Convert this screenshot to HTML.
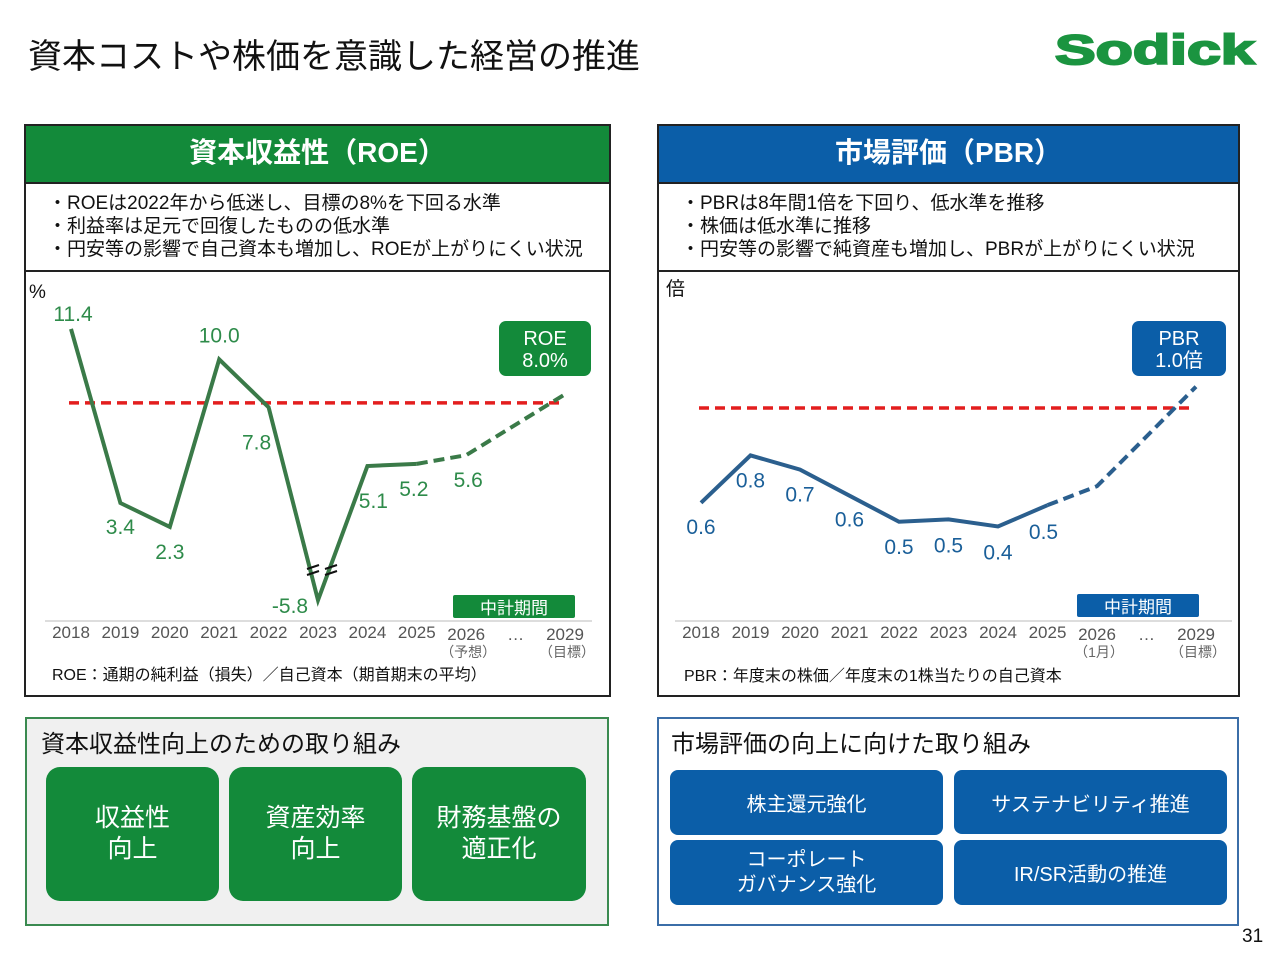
<!DOCTYPE html>
<html><head><meta charset="utf-8">
<style>
*{margin:0;padding:0;box-sizing:border-box}
body{width:1280px;height:960px;background:#fff;position:relative;overflow:hidden;font-family:"Liberation Sans","Noto Sans CJK JP",sans-serif;color:#111}
.abs{position:absolute}
.panel{position:absolute;border:2px solid #222;background:#fff}
.hdr{position:absolute;left:0;right:0;top:0;height:58px;color:#fff;font-size:28px;text-align:center;line-height:54px;border-bottom:2px solid #222;font-weight:bold}
.desc{position:absolute;left:0;right:0;top:58px;height:88px;border-bottom:2px solid #222;font-size:19px;line-height:23px;padding:8px 0 0 22px}
.btn{position:absolute;color:#fff;text-align:center;display:flex;align-items:center;justify-content:center;border-radius:14px}
</style></head><body>
<div class="abs" style="left:28px;top:29px;font-size:34px;">資本コストや株価を意識した経営の推進</div>
<div class="abs" style="left:1055px;top:29px;font-size:42px;line-height:42px;font-weight:900;color:#1b9440;font-family:'Liberation Sans',sans-serif;-webkit-text-stroke:2px #1b9440;transform:scaleX(1.45);transform-origin:left top">Sodick</div>

<div class="panel" style="left:24px;top:124px;width:587px;height:573px">
 <div class="hdr" style="background:#138a3a">資本収益性（ROE）</div>
 <div class="desc">・ROEは2022年から低迷し、目標の8%を下回る水準<br>・利益率は足元で回復したものの低水準<br>・円安等の影響で自己資本も増加し、ROEが上がりにくい状況</div>
</div>
<div class="panel" style="left:657px;top:124px;width:583px;height:573px">
 <div class="hdr" style="background:#0b5ea8">市場評価（PBR）</div>
 <div class="desc">・PBRは8年間1倍を下回り、低水準を推移<br>・株価は低水準に推移<br>・円安等の影響で純資産も増加し、PBRが上がりにくい状況</div>
</div>

<svg id="charts" class="abs" style="left:0;top:0" width="1280" height="960"></svg>

<div class="abs" style="left:25px;top:717px;width:584px;height:209px;background:#f0f0f0;border:2px solid #3a8a50">
 <div class="abs" style="left:14px;top:5px;font-size:24px">資本収益性向上のための取り組み</div>
</div>
<div class="btn" style="left:46px;top:767px;width:173px;height:134px;background:#138a3a;font-size:25px;line-height:31px">収益性<br>向上</div>
<div class="btn" style="left:229px;top:767px;width:173px;height:134px;background:#138a3a;font-size:25px;line-height:31px">資産効率<br>向上</div>
<div class="btn" style="left:412px;top:767px;width:174px;height:134px;background:#138a3a;font-size:25px;line-height:31px">財務基盤の<br>適正化</div>

<div class="abs" style="left:657px;top:717px;width:582px;height:209px;background:#fff;border:2px solid #3b6ea8">
 <div class="abs" style="left:12px;top:5px;font-size:24px">市場評価の向上に向けた取り組み</div>
</div>
<div class="btn" style="left:670px;top:770px;width:273px;height:65px;background:#0b5ea8;font-size:20px;border-radius:8px">株主還元強化</div>
<div class="btn" style="left:954px;top:770px;width:273px;height:64px;background:#0b5ea8;font-size:20px;border-radius:8px">サステナビリティ推進</div>
<div class="btn" style="left:670px;top:840px;width:273px;height:65px;background:#0b5ea8;font-size:20px;line-height:25px;border-radius:8px">コーポレート<br>ガバナンス強化</div>
<div class="btn" style="left:954px;top:840px;width:273px;height:65px;background:#0b5ea8;font-size:20px;border-radius:8px">IR/SR活動の推進</div>
<div class="abs" style="left:1242px;top:926px;font-size:19px">31</div>

<script>
const years = ["2018","2019","2020","2021","2022","2023","2024","2025","2026","…","2029"];
const roeIdx = [0,1,2,3,4,5,6,7,8,10];
const roeValues = [11.4,3.4,2.3,10.0,7.8,-5.8,5.1,5.2,5.6,8.4];
const roeLabels = ["11.4","3.4","2.3","10.0","7.8","-5.8","5.1","5.2","5.6",""];
const roeTarget = 8.0;
const pbrValues = [0.6,0.8,0.74,0.63,0.52,0.53,0.50,0.59,0.67,1.09];
const pbrLabels = ["0.6","0.8","0.7","0.6","0.5","0.5","0.4","0.5","",""];
const pbrTarget = 1.0;

const NS="http://www.w3.org/2000/svg";
const svg=document.getElementById('charts');
function mk(tag,attrs,txt){const e=document.createElementNS(NS,tag);for(const k in attrs)e.setAttribute(k,attrs[k]);if(txt!==undefined)e.textContent=txt;svg.appendChild(e);return e;}
const F='"Liberation Sans","Noto Sans CJK JP",sans-serif';

const rx=i=>71+i*49.4;
const ry=v=>v>=0?577-v*21.76:577-v*4;
const px=i=>701+i*49.5;
const py=v=>408+(1-v)*237;

function drawChart(o){
  let e;
  e=mk('text',{x:o.unitX,y:o.unitY,'font-size':19,'font-family':F,fill:'#111'},o.unit);
  
  e=mk('line',{x1:o.ax1,x2:o.ax2,y1:o.axY,y2:o.axY,stroke:'#ddd','stroke-width':2});
  
  years.forEach((y,i)=>{
    const t=mk('text',{x:o.x(i),y:o.axY+17+(i>=8?2:0),'font-size':17,'font-family':F,fill:'#555','text-anchor':'middle'},y);
    
  });
  [[8,o.sub26],[10,'（目標）']].forEach(([i,s])=>{
    const t=mk('text',{x:o.x(i)+2,y:o.axY+36,'font-size':14,'font-family':F,fill:'#666','text-anchor':'middle'},s);
    
  });
  const ty=o.y(o.target);
  e=mk('line',{x1:o.x(0)-2,x2:o.x(10)-4,y1:ty,y2:ty,stroke:'#e31e1e','stroke-width':3.5,'stroke-dasharray':'10 6'});
  
  const pts=o.idx.map((i,k)=>[o.x(i),o.y(o.vals[k])]);
  e=mk('polyline',{points:pts.slice(0,8).map(p=>p.join(',')).join(' '),fill:'none',stroke:o.col,'stroke-width':4,'stroke-linejoin':'miter'});
  
  e=mk('polyline',{points:pts.slice(7).map(p=>p.join(',')).join(' '),fill:'none',stroke:o.col,'stroke-width':4,'stroke-dasharray':'11 6'});
  
  o.labels.forEach((l,k)=>{
    if(!l)return;
    const [dx,dy]=o.off[k];
    const t=mk('text',{x:pts[k][0]+dx,y:pts[k][1]+dy,'font-size':21,'font-family':F,fill:o.lcol,'text-anchor':'middle'},l);
    
  });
  e=mk('rect',{x:o.bx,y:o.by,width:o.bw,height:55,rx:7,fill:o.bcol});
  
  mk('text',{x:o.bx+o.bw/2,y:o.by+24,'font-size':20,'font-family':F,fill:'#fff','text-anchor':'middle'},o.b1);
  mk('text',{x:o.bx+o.bw/2,y:o.by+46,'font-size':20,'font-family':F,fill:'#fff','text-anchor':'middle'},o.b2);
  e=mk('rect',{x:o.mx,y:o.my,width:122,height:23,rx:2,fill:o.bcol});
  
  mk('text',{x:o.mx+61,y:o.my+19,'font-size':17,'font-family':F,fill:'#fff','text-anchor':'middle'},'中計期間');
  e=mk('text',{x:o.nx,y:o.ny,'font-size':16,'font-family':F,fill:'#111'},o.note);
  
}

drawChart({id:'roe',x:rx,y:ry,idx:roeIdx,vals:roeValues,labels:roeLabels,target:roeTarget,
 col:'#3a7a48',lcol:'#2e8b4a',bcol:'#138a3a',unit:'%',unitX:29,unitY:298,ax1:45,ax2:592,axY:621,sub26:'（予想）',
 off:[[2,-8],[0,31],[0,32],[0,-17],[-12,42],[-28,13],[6,42],[-3,32],[2,32],[0,0]],
 bx:499,by:321,bw:92,b1:'ROE',b2:'8.0%',mx:453,my:595,nx:52,ny:680,note:'ROE：通期の純利益（損失）／自己資本（期首期末の平均）'});
['313','331'].forEach(xs=>{const x=+xs;
 const b=mk('path',{d:`M${x-6},${569} l12,-4 M${x-6},${575} l12,-4`,stroke:'#111','stroke-width':2,fill:'none'});
 });

drawChart({id:'pbr',x:px,y:py,idx:roeIdx,vals:pbrValues,labels:pbrLabels,target:pbrTarget,
 col:'#2b5f8e',lcol:'#1a5f99',bcol:'#0b5ea8',unit:'倍',unitX:666,unitY:295,ax1:675,ax2:1232,axY:621,sub26:'（1月）',
 off:[[0,31],[0,32],[0,32],[0,31],[0,32],[0,33],[0,33],[-4,34],[0,0],[0,0]],
 bx:1132,by:321,bw:94,b1:'PBR',b2:'1.0倍',mx:1077,my:594,nx:684,ny:681,note:'PBR：年度末の株価／年度末の1株当たりの自己資本'});
</script>
</body></html>
